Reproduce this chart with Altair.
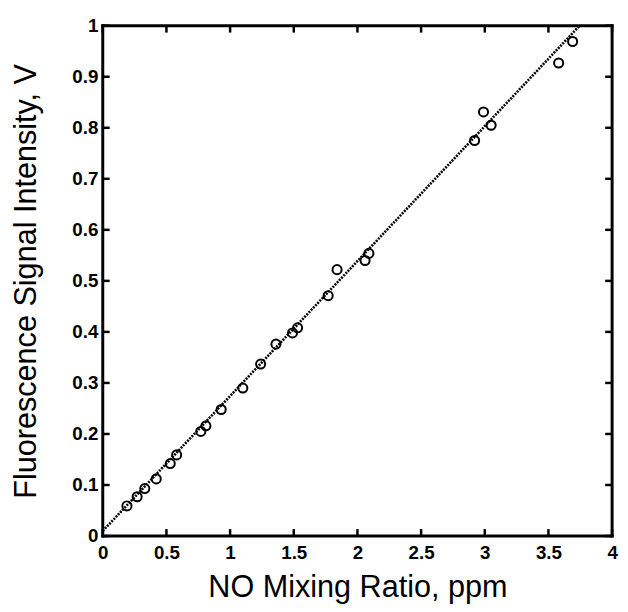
import altair as alt
import pandas as pd

# Data
no_ppm = [0.19, 0.27, 0.33, 0.42, 0.53, 0.58, 0.77, 0.81, 0.93, 1.10, 1.24, 1.36,
          1.49, 1.53, 1.77, 1.84, 2.06, 2.09, 2.92, 2.99, 3.05, 3.58, 3.69]
signal_v = [0.059, 0.077, 0.093, 0.112, 0.142, 0.159, 0.205, 0.216, 0.248, 0.290, 0.337, 0.376,
            0.398, 0.408, 0.471, 0.522, 0.540, 0.554, 0.775, 0.831, 0.805, 0.927, 0.969]
fit_x = [0.0, 3.745]
fit_y = [0.01, 1.0]
x_ticks = [0, 0.5, 1, 1.5, 2, 2.5, 3, 3.5, 4]
y_ticks = [0, 0.1, 0.2, 0.3, 0.4, 0.5, 0.6, 0.7, 0.8, 0.9, 1]

W, H = 516, 517
TL = 7

pts = pd.DataFrame({"x": no_ppm, "y": signal_v})
fit = pd.DataFrame({"x": fit_x, "y": fit_y})
xt = pd.DataFrame({"v": x_ticks})
yt = pd.DataFrame({"v": y_ticks})

xscale = alt.Scale(domain=[0, 4], nice=False)
yscale = alt.Scale(domain=[0, 1], nice=False)

font = "Liberation Sans"

xaxis = alt.Axis(values=x_ticks, format="~g", title="NO Mixing Ratio, ppm", grid=False,
                 tickSize=0, domain=False, labelFont=font, labelFontSize=19,
                 labelFontWeight="bold", labelColor="black", labelPadding=8,
                 labelFlush=False, labelOverlap=False,
                 titleFont=font, titleFontSize=31, titleFontWeight="normal",
                 titleColor="black", titlePadding=10)
yaxis = alt.Axis(values=y_ticks, format="~g", title="Fluorescence Signal Intensity, V",
                 grid=False, tickSize=0, domain=False, labelFont=font, labelFontSize=19,
                 labelFontWeight="bold", labelColor="black", labelPadding=5,
                 labelFlush=False, labelOverlap=False,
                 titleFont=font, titleFontSize=31, titleFontWeight="normal",
                 titleColor="black", titlePadding=30)

line = alt.Chart(fit).mark_line(color="black", strokeWidth=2.6, strokeDash=[2, 1.2],
                                clip=True).encode(
    x=alt.X("x:Q", scale=xscale, axis=xaxis),
    y=alt.Y("y:Q", scale=yscale, axis=yaxis),
)

points = alt.Chart(pts).mark_point(shape="circle", filled=False, color="black",
                                   strokeWidth=2, size=85, opacity=1).encode(
    x=alt.X("x:Q", scale=xscale),
    y=alt.Y("y:Q", scale=yscale),
)

tick_style = dict(color="black", strokeWidth=2.5)
bottom = alt.Chart(xt).mark_rule(**tick_style).encode(
    x=alt.X("v:Q", scale=xscale), y=alt.value(H), y2=alt.value(H - TL))
top = alt.Chart(xt).mark_rule(**tick_style).encode(
    x=alt.X("v:Q", scale=xscale), y=alt.value(0), y2=alt.value(TL))
left = alt.Chart(yt).mark_rule(**tick_style).encode(
    y=alt.Y("v:Q", scale=yscale), x=alt.value(0), x2=alt.value(TL))
right = alt.Chart(yt).mark_rule(**tick_style).encode(
    y=alt.Y("v:Q", scale=yscale), x=alt.value(W), x2=alt.value(W - TL))

frame_style = dict(color="black", strokeWidth=3, strokeCap="square")
f_bottom = alt.Chart().mark_rule(**frame_style).encode(
    x=alt.datum(0, scale=xscale), x2=alt.datum(4), y=alt.datum(0, scale=yscale))
f_top = alt.Chart().mark_rule(**frame_style).encode(
    x=alt.datum(0, scale=xscale), x2=alt.datum(4), y=alt.datum(1, scale=yscale))
f_left = alt.Chart().mark_rule(**frame_style).encode(
    y=alt.datum(0, scale=yscale), y2=alt.datum(1), x=alt.datum(0, scale=xscale))
f_right = alt.Chart().mark_rule(**frame_style).encode(
    y=alt.datum(0, scale=yscale), y2=alt.datum(1), x=alt.datum(4, scale=xscale))

chart = alt.layer(line, points, bottom, top, left, right,
                  f_bottom, f_top, f_left, f_right).properties(
    width=W, height=H,
    autosize=alt.AutoSizeParams(type="none"),
    padding={"left": 96, "top": 14, "right": 8, "bottom": 72},
).configure_view(stroke=None).configure(background="white")

chart.save("out.html", embed_options={"renderer": "svg", "actions": False})
